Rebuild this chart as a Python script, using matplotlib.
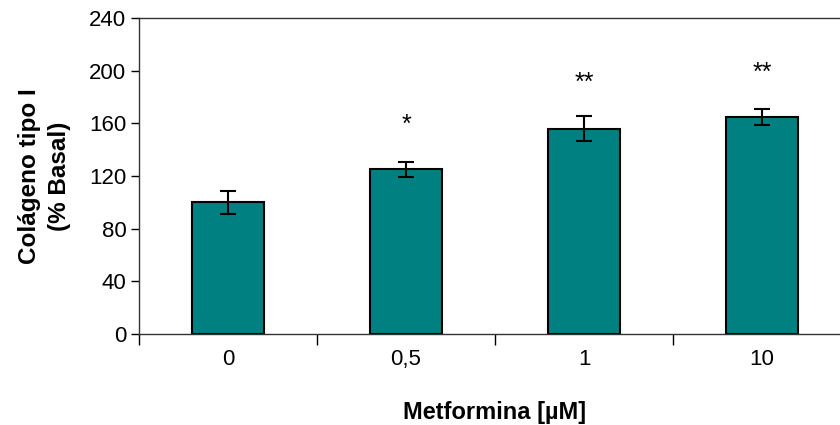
import matplotlib
matplotlib.use("Agg")
import matplotlib.pyplot as plt

plt.rcParams['font.family'] = ['Liberation Sans', 'DejaVu Sans']

doses = ["0", "0,5", "1", "10"]
colageno = [100, 125, 156, 165]
error = [8.5, 5.5, 9.5, 6]
stars = ["", "*", "**", "**"]
star_y = [0, 159, 191, 198]

W, H = 840, 425
fig = plt.figure(figsize=(W / 100, H / 100), dpi=100)
ax = fig.add_axes([139 / W, (H - 334) / H, (851 - 139) / W, (334 - 18) / H])

x = range(len(doses))
ax.bar(x, colageno, width=0.405, color="#008080", edgecolor="black", linewidth=1.5,
       yerr=error, capsize=5.5, error_kw=dict(elinewidth=1.5, capthick=1.5, ecolor="black"))

for i, s in enumerate(stars):
    if s:
        ax.text(i, star_y[i], s, ha="center", va="center", fontsize=18)

ax.set_xlim(-0.5, 3.5)
ax.set_ylim(0, 240)
ax.set_yticks(range(0, 241, 40))
ax.tick_params(axis="y", labelsize=16, length=6, width=1, direction="out", pad=3)

# category labels centred, tick marks on the boundaries
ax.set_xticks(list(x))
ax.set_xticklabels(doses)
ax.set_xticks([i - 0.5 for i in range(len(doses) + 1)], minor=True)
ax.tick_params(axis="x", which="major", length=0, labelsize=16, pad=11)
ax.tick_params(axis="x", which="minor", length=8, width=1, direction="out")

for side in ["left", "bottom", "top"]:
    ax.spines[side].set_linewidth(1)
    ax.spines[side].set_color("#333333")
ax.spines["right"].set_visible(False)

ax.set_xlabel("Metformina [µM]", fontsize=17, fontweight="bold", labelpad=22)
ax.set_ylabel("Colágeno tipo I\n(% Basal)", fontsize=17.5, fontweight="bold",
              linespacing=1.4, labelpad=13)

plt.savefig("out.png", dpi=100)
